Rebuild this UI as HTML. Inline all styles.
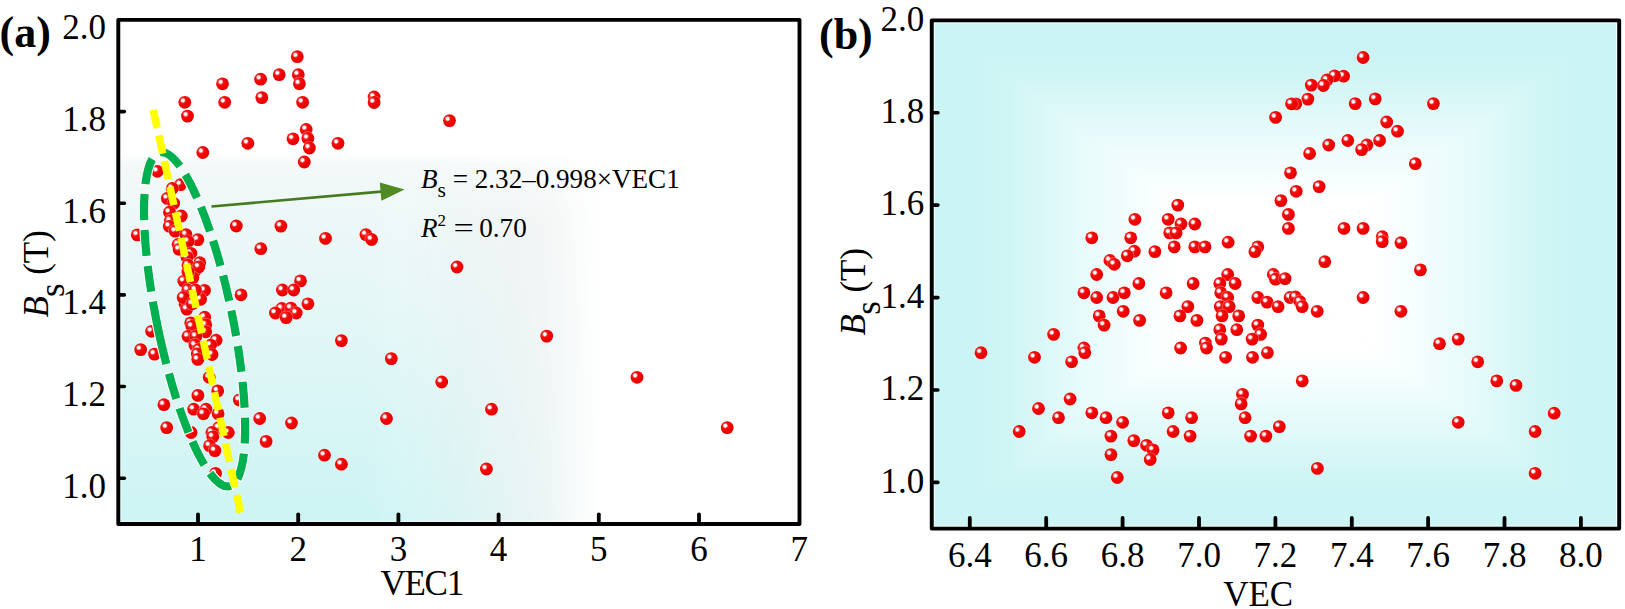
<!DOCTYPE html>
<html><head><meta charset="utf-8"><title>Bs vs VEC</title>
<style>
html,body{margin:0;padding:0;background:#fff}
body{width:1625px;height:609px;overflow:hidden}
svg{display:block}
text{font-family:"Liberation Serif","Times New Roman",serif;fill:#000}
.t{font-size:35px}
.b{font-weight:bold;font-size:44px}
.an{font-size:27.1px}
.i{font-style:italic}
</style></head><body>
<svg width="1625" height="609" viewBox="0 0 1625 609">
<defs>
<radialGradient id="sg" cx="0.35" cy="0.35" r="0.75" fx="0.35" fy="0.35">
<stop offset="0" stop-color="#fff"/><stop offset="0.13" stop-color="#fff"/><stop offset="0.30" stop-color="#f31212"/><stop offset="0.6" stop-color="#f00000"/><stop offset="1" stop-color="#e00000"/>
</radialGradient>
<g id="s"><circle r="7.1" fill="#fff" fill-opacity="0.4"/><circle r="6.4" fill="url(#sg)"/></g>
<linearGradient id="av" x1="0" y1="0" x2="0" y2="1">
<stop offset="0" stop-color="#fff"/><stop offset="0.265" stop-color="#fff"/><stop offset="0.285" stop-color="#f3f8f8"/><stop offset="1" stop-color="#cdf4f4"/>
</linearGradient>
<linearGradient id="ah" x1="0" y1="0" x2="1" y2="0">
<stop offset="0" stop-color="#fff"/><stop offset="0.36" stop-color="#fff"/><stop offset="0.50" stop-color="#bbb"/><stop offset="0.60" stop-color="#666"/><stop offset="0.67" stop-color="#1c1c1c"/><stop offset="0.71" stop-color="#000"/><stop offset="1" stop-color="#000"/>
</linearGradient>
<linearGradient id="agh" x1="0" y1="0" x2="1" y2="0">
<stop offset="0" stop-color="#000"/><stop offset="0.42" stop-color="#000"/><stop offset="0.57" stop-color="#fff"/><stop offset="0.63" stop-color="#fff"/><stop offset="0.71" stop-color="#000"/><stop offset="1" stop-color="#000"/>
</linearGradient>
<linearGradient id="agv" x1="0" y1="0" x2="0" y2="1">
<stop offset="0" stop-color="#ddd" stop-opacity="0"/><stop offset="0.27" stop-color="#ddd" stop-opacity="0"/><stop offset="0.40" stop-color="#ddd" stop-opacity="0.2"/><stop offset="1" stop-color="#ddd" stop-opacity="0.2"/>
</linearGradient>
<mask id="am" maskUnits="userSpaceOnUse" x="100" y="0" width="720" height="540"><rect x="118.3" y="19.9" width="681.2" height="504.1" fill="url(#ah)"/></mask>
<mask id="agm" maskUnits="userSpaceOnUse" x="100" y="0" width="720" height="540"><rect x="118.3" y="19.9" width="681.2" height="504.1" fill="url(#agh)"/></mask>
<linearGradient id="bT" gradientUnits="userSpaceOnUse" x1="0" y1="20.4" x2="0" y2="274.5"><stop offset="0" stop-color="#cbf4f4"/><stop offset="0.12" stop-color="#cbf4f4"/><stop offset="0.22" stop-color="#d0f5f5"/><stop offset="0.45" stop-color="#e8fbfb"/><stop offset="0.71" stop-color="#fff"/><stop offset="1" stop-color="#fff"/></linearGradient>
<linearGradient id="bB" gradientUnits="userSpaceOnUse" x1="0" y1="528.6" x2="0" y2="274.5"><stop offset="0" stop-color="#cbf4f4"/><stop offset="0.12" stop-color="#cbf4f4"/><stop offset="0.22" stop-color="#d0f5f5"/><stop offset="0.45" stop-color="#e8fbfb"/><stop offset="0.71" stop-color="#fff"/><stop offset="1" stop-color="#fff"/></linearGradient>
<linearGradient id="bL" gradientUnits="userSpaceOnUse" x1="931.75" y1="0" x2="1275.5" y2="0"><stop offset="0" stop-color="#cbf4f4"/><stop offset="0.12" stop-color="#cbf4f4"/><stop offset="0.22" stop-color="#d0f5f5"/><stop offset="0.45" stop-color="#e8fbfb"/><stop offset="0.71" stop-color="#fff"/><stop offset="1" stop-color="#fff"/></linearGradient>
<linearGradient id="bR" gradientUnits="userSpaceOnUse" x1="1619.2" y1="0" x2="1275.5" y2="0"><stop offset="0" stop-color="#cbf4f4"/><stop offset="0.12" stop-color="#cbf4f4"/><stop offset="0.22" stop-color="#d0f5f5"/><stop offset="0.45" stop-color="#e8fbfb"/><stop offset="0.71" stop-color="#fff"/><stop offset="1" stop-color="#fff"/></linearGradient>
</defs>

<rect x="118.3" y="19.9" width="681.20" height="504.10" fill="url(#av)" mask="url(#am)"/>
<rect x="118.3" y="19.9" width="681.20" height="504.10" fill="url(#agv)" mask="url(#agm)"/>
<g>
<use href="#s" x="297.3" y="56.7"/>
<use href="#s" x="298.3" y="74.7"/>
<use href="#s" x="279.2" y="74.7"/>
<use href="#s" x="260.6" y="79.2"/>
<use href="#s" x="299.4" y="83.8"/>
<use href="#s" x="222.5" y="83.8"/>
<use href="#s" x="261.8" y="97.6"/>
<use href="#s" x="302.6" y="102.3"/>
<use href="#s" x="224.7" y="102.3"/>
<use href="#s" x="184.8" y="102.3"/>
<use href="#s" x="187.5" y="116.1"/>
<use href="#s" x="374.1" y="97.0"/>
<use href="#s" x="374.1" y="102.5"/>
<use href="#s" x="449.5" y="120.6"/>
<use href="#s" x="306.2" y="129.5"/>
<use href="#s" x="307.9" y="138.4"/>
<use href="#s" x="293.0" y="138.8"/>
<use href="#s" x="309.4" y="148.0"/>
<use href="#s" x="338.0" y="143.3"/>
<use href="#s" x="247.8" y="143.3"/>
<use href="#s" x="202.8" y="152.5"/>
<use href="#s" x="304.3" y="162.0"/>
<use href="#s" x="236.3" y="226.0"/>
<use href="#s" x="280.9" y="226.1"/>
<use href="#s" x="325.5" y="238.4"/>
<use href="#s" x="365.9" y="234.6"/>
<use href="#s" x="371.6" y="239.5"/>
<use href="#s" x="260.8" y="248.7"/>
<use href="#s" x="137.3" y="234.9"/>
<use href="#s" x="457.0" y="267.0"/>
<use href="#s" x="241.0" y="294.8"/>
<use href="#s" x="300.5" y="280.9"/>
<use href="#s" x="282.4" y="290.0"/>
<use href="#s" x="293.7" y="290.0"/>
<use href="#s" x="307.9" y="303.8"/>
<use href="#s" x="281.8" y="308.5"/>
<use href="#s" x="290.9" y="308.1"/>
<use href="#s" x="275.4" y="313.0"/>
<use href="#s" x="296.2" y="313.0"/>
<use href="#s" x="286.2" y="317.6"/>
<use href="#s" x="341.4" y="340.6"/>
<use href="#s" x="391.3" y="358.6"/>
<use href="#s" x="151.6" y="331.3"/>
<use href="#s" x="140.7" y="349.6"/>
<use href="#s" x="154.5" y="354.1"/>
<use href="#s" x="546.7" y="336.1"/>
<use href="#s" x="441.7" y="382.0"/>
<use href="#s" x="386.5" y="418.5"/>
<use href="#s" x="291.5" y="423.0"/>
<use href="#s" x="259.7" y="418.5"/>
<use href="#s" x="266.1" y="441.4"/>
<use href="#s" x="324.5" y="455.2"/>
<use href="#s" x="341.4" y="464.2"/>
<use href="#s" x="163.9" y="404.7"/>
<use href="#s" x="166.7" y="427.6"/>
<use href="#s" x="191.1" y="432.5"/>
<use href="#s" x="197.9" y="395.4"/>
<use href="#s" x="209.2" y="377.3"/>
<use href="#s" x="217.7" y="390.9"/>
<use href="#s" x="239.3" y="400.0"/>
<use href="#s" x="193.7" y="409.2"/>
<use href="#s" x="206.0" y="409.2"/>
<use href="#s" x="203.4" y="413.8"/>
<use href="#s" x="218.1" y="413.8"/>
<use href="#s" x="218.7" y="427.6"/>
<use href="#s" x="228.3" y="432.5"/>
<use href="#s" x="211.9" y="432.5"/>
<use href="#s" x="212.8" y="436.8"/>
<use href="#s" x="209.6" y="445.7"/>
<use href="#s" x="214.9" y="450.6"/>
<use href="#s" x="215.5" y="473.3"/>
<use href="#s" x="637.0" y="377.3"/>
<use href="#s" x="491.5" y="409.2"/>
<use href="#s" x="727.2" y="427.6"/>
<use href="#s" x="486.4" y="469.0"/>
<use href="#s" x="157.4" y="171.3"/>
<use href="#s" x="180.6" y="184.6"/>
<use href="#s" x="172.2" y="188.5"/>
<use href="#s" x="167.3" y="198.4"/>
<use href="#s" x="173.7" y="203.3"/>
<use href="#s" x="169.5" y="212.2"/>
<use href="#s" x="181.3" y="216.0"/>
<use href="#s" x="170.2" y="220.8"/>
<use href="#s" x="169.3" y="226.3"/>
<use href="#s" x="175.2" y="231.2"/>
<use href="#s" x="186.0" y="234.6"/>
<use href="#s" x="197.8" y="239.6"/>
<use href="#s" x="188.0" y="241.5"/>
<use href="#s" x="178.1" y="244.5"/>
<use href="#s" x="179.1" y="249.4"/>
<use href="#s" x="190.9" y="253.3"/>
<use href="#s" x="187.0" y="257.3"/>
<use href="#s" x="199.8" y="262.7"/>
<use href="#s" x="188.0" y="265.2"/>
<use href="#s" x="194.7" y="271.2"/>
<use href="#s" x="183.8" y="281.1"/>
<use href="#s" x="187.8" y="289.9"/>
<use href="#s" x="204.5" y="290.4"/>
<use href="#s" x="200.6" y="299.3"/>
<use href="#s" x="185.0" y="303.9"/>
<use href="#s" x="186.8" y="309.1"/>
<use href="#s" x="190.7" y="322.9"/>
<use href="#s" x="198.8" y="267.0"/>
<use href="#s" x="204.7" y="317.2"/>
<use href="#s" x="183.1" y="297.5"/>
<use href="#s" x="192.9" y="277.8"/>
<use href="#s" x="187.9" y="272.0"/>
<use href="#s" x="195.4" y="290.0"/>
<use href="#s" x="192.2" y="303.8"/>
<use href="#s" x="191.9" y="326.4"/>
<use href="#s" x="205.7" y="324.9"/>
<use href="#s" x="205.7" y="331.8"/>
<use href="#s" x="188.0" y="336.3"/>
<use href="#s" x="195.9" y="336.3"/>
<use href="#s" x="216.1" y="340.2"/>
<use href="#s" x="194.9" y="345.1"/>
<use href="#s" x="210.6" y="345.1"/>
<use href="#s" x="198.8" y="349.6"/>
<use href="#s" x="212.1" y="354.5"/>
<use href="#s" x="197.3" y="354.0"/>
<use href="#s" x="197.8" y="359.4"/>
</g>
<g transform="rotate(-11.7 194.6 319.3)" fill="none">
<path d="M156.89999999999998,319.3 A37.7 170.4 0 0 0 194.6,489.70000000000005 A37.7 170.4 0 0 0 232.3,319.3 A37.7 170.4 0 0 0 194.6,148.9 A37.7 170.4 0 0 0 156.89999999999998,319.3" stroke="#fff" stroke-width="10.4" stroke-dasharray="28 8 28 8 28 8 28 8 28 8 28 8 28 8 28 8 28 8 28 8 28 8 28 8 28 8 28 8 28 8 28 8 28 8 28 8 28 8 38.12 0" stroke-dashoffset="-11"/>
<path d="M156.89999999999998,319.3 A37.7 170.4 0 0 0 194.6,489.70000000000005 A37.7 170.4 0 0 0 232.3,319.3 A37.7 170.4 0 0 0 194.6,148.9 A37.7 170.4 0 0 0 156.89999999999998,319.3" stroke="#00b050" stroke-width="8.2" stroke-dasharray="26 10 26 10 26 10 26 10 26 10 26 10 26 10 26 10 26 10 26 10 26 10 26 10 26 10 26 10 26 10 26 10 26 10 26 10 26 10 38.12 0" stroke-dashoffset="-12"/>
</g>
<line x1="153.2" y1="109.7" x2="240.5" y2="512.6" stroke="#ffff00" stroke-width="7.5" stroke-dasharray="18.7 7.57"/>
<line x1="211.5" y1="206.5" x2="384" y2="191.4" stroke="#467a1e" stroke-width="2.6"/>
<polygon points="404.5,189.6 381.4,200.8 379.8,182.6" fill="#4f8a24"/>
<text class="an" x="421" y="187.6"><tspan class="i">B</tspan><tspan font-size="21.5" dy="9.8">s</tspan><tspan dy="-9.8"> = 2.32–0.998×VEC1</tspan></text>
<text class="an" x="421" y="236.8"><tspan class="i">R</tspan><tspan font-size="17" dy="-11">2</tspan></text>
<text class="an" transform="translate(453.5 236.8) scale(1.33 1)">=</text>
<text class="an" x="479.3" y="236.8">0.70</text>
<rect x="120.89999999999999" y="22.5" width="676.00" height="498.90" fill="none" stroke="#fff" stroke-opacity="0.6" stroke-width="1.3"/>
<rect x="118.3" y="19.9" width="681.20" height="504.10" fill="none" stroke="#000" stroke-width="3.9" stroke-linejoin="round"/>
<line x1="120" y1="478.2" x2="124.3" y2="478.2" stroke="#000" stroke-width="3.6" stroke-linecap="round"/>
<text class="t" x="106" y="497.5" text-anchor="end">1.0</text>
<line x1="120" y1="386.5" x2="124.3" y2="386.5" stroke="#000" stroke-width="3.6" stroke-linecap="round"/>
<text class="t" x="106" y="405.8" text-anchor="end">1.2</text>
<line x1="120" y1="294.9" x2="124.3" y2="294.9" stroke="#000" stroke-width="3.6" stroke-linecap="round"/>
<text class="t" x="106" y="314.2" text-anchor="end">1.4</text>
<line x1="120" y1="203.2" x2="124.3" y2="203.2" stroke="#000" stroke-width="3.6" stroke-linecap="round"/>
<text class="t" x="106" y="222.5" text-anchor="end">1.6</text>
<line x1="120" y1="111.6" x2="124.3" y2="111.6" stroke="#000" stroke-width="3.6" stroke-linecap="round"/>
<text class="t" x="106" y="130.9" text-anchor="end">1.8</text>
<text class="t" x="106" y="39.2" text-anchor="end">2.0</text>
<line x1="198.0" y1="523" x2="198.0" y2="514.3" stroke="#000" stroke-width="3.8" stroke-linecap="round"/>
<text class="t" x="198.0" y="561" text-anchor="middle">1</text>
<line x1="298.2" y1="523" x2="298.2" y2="514.3" stroke="#000" stroke-width="3.8" stroke-linecap="round"/>
<text class="t" x="298.2" y="561" text-anchor="middle">2</text>
<line x1="398.4" y1="523" x2="398.4" y2="514.3" stroke="#000" stroke-width="3.8" stroke-linecap="round"/>
<text class="t" x="398.4" y="561" text-anchor="middle">3</text>
<line x1="498.6" y1="523" x2="498.6" y2="514.3" stroke="#000" stroke-width="3.8" stroke-linecap="round"/>
<text class="t" x="498.6" y="561" text-anchor="middle">4</text>
<line x1="598.8" y1="523" x2="598.8" y2="514.3" stroke="#000" stroke-width="3.8" stroke-linecap="round"/>
<text class="t" x="598.8" y="561" text-anchor="middle">5</text>
<line x1="699.0" y1="523" x2="699.0" y2="514.3" stroke="#000" stroke-width="3.8" stroke-linecap="round"/>
<text class="t" x="699.0" y="561" text-anchor="middle">6</text>
<text class="t" x="799.2" y="561" text-anchor="middle">7</text>
<text class="t" x="421.7" y="595.2" text-anchor="middle" letter-spacing="-1.3">VEC1</text>
<text class="b" x="-0.5" y="47">(a)</text>
<text class="t i" font-size="36" transform="translate(48.0 317.6) rotate(-90)">B</text>
<text class="t" font-size="36" transform="translate(63.8 297.0) rotate(-90)">s</text>
<text class="t" font-size="36" transform="translate(48.3 274.8) rotate(-90)">(T)</text>
<rect x="931.75" y="20.4" width="687.45" height="508.20" fill="#cbf4f4"/>
<polygon points="931.75,20.4 1619.2,20.4 1275.475,274.5" fill="url(#bT)" stroke="url(#bT)" stroke-width="0.6"/>
<polygon points="931.75,528.6 1619.2,528.6 1275.475,274.5" fill="url(#bB)" stroke="url(#bB)" stroke-width="0.6"/>
<polygon points="931.75,20.4 931.75,528.6 1275.475,274.5" fill="url(#bL)" stroke="url(#bL)" stroke-width="0.6"/>
<polygon points="1619.2,20.4 1619.2,528.6 1275.475,274.5" fill="url(#bR)" stroke="url(#bR)" stroke-width="0.6"/>
<g>
<use href="#s" x="1363.1" y="57.5"/>
<use href="#s" x="1343.6" y="76.2"/>
<use href="#s" x="1334.6" y="75.8"/>
<use href="#s" x="1327.0" y="80.0"/>
<use href="#s" x="1323.4" y="85.5"/>
<use href="#s" x="1311.3" y="85.1"/>
<use href="#s" x="1307.9" y="99.1"/>
<use href="#s" x="1295.8" y="103.8"/>
<use href="#s" x="1291.5" y="103.8"/>
<use href="#s" x="1275.6" y="117.4"/>
<use href="#s" x="1355.2" y="103.6"/>
<use href="#s" x="1375.2" y="98.9"/>
<use href="#s" x="1433.4" y="103.6"/>
<use href="#s" x="1386.7" y="122.0"/>
<use href="#s" x="1397.5" y="131.2"/>
<use href="#s" x="1379.6" y="140.5"/>
<use href="#s" x="1366.9" y="145.0"/>
<use href="#s" x="1361.6" y="149.6"/>
<use href="#s" x="1347.8" y="140.5"/>
<use href="#s" x="1328.7" y="145.0"/>
<use href="#s" x="1309.6" y="153.5"/>
<use href="#s" x="1415.3" y="163.7"/>
<use href="#s" x="1290.5" y="172.8"/>
<use href="#s" x="1319.1" y="186.6"/>
<use href="#s" x="1296.2" y="191.3"/>
<use href="#s" x="1280.9" y="200.6"/>
<use href="#s" x="1288.4" y="214.4"/>
<use href="#s" x="1288.4" y="228.4"/>
<use href="#s" x="1344.0" y="228.4"/>
<use href="#s" x="1363.1" y="228.4"/>
<use href="#s" x="1382.2" y="236.7"/>
<use href="#s" x="1382.2" y="241.6"/>
<use href="#s" x="1400.9" y="242.7"/>
<use href="#s" x="1324.8" y="261.7"/>
<use href="#s" x="1420.4" y="269.9"/>
<use href="#s" x="1177.8" y="205.1"/>
<use href="#s" x="1134.9" y="219.3"/>
<use href="#s" x="1168.2" y="219.3"/>
<use href="#s" x="1181.0" y="224.0"/>
<use href="#s" x="1194.8" y="224.0"/>
<use href="#s" x="1169.7" y="232.9"/>
<use href="#s" x="1176.1" y="232.9"/>
<use href="#s" x="1091.8" y="237.8"/>
<use href="#s" x="1130.7" y="237.8"/>
<use href="#s" x="1174.2" y="246.9"/>
<use href="#s" x="1194.8" y="246.9"/>
<use href="#s" x="1205.0" y="246.9"/>
<use href="#s" x="1228.1" y="242.2"/>
<use href="#s" x="1257.8" y="246.9"/>
<use href="#s" x="1254.9" y="251.6"/>
<use href="#s" x="1154.9" y="251.6"/>
<use href="#s" x="1134.3" y="251.2"/>
<use href="#s" x="1127.3" y="255.8"/>
<use href="#s" x="1109.9" y="260.5"/>
<use href="#s" x="1114.3" y="264.3"/>
<use href="#s" x="1096.7" y="274.5"/>
<use href="#s" x="1138.9" y="283.5"/>
<use href="#s" x="1193.1" y="283.5"/>
<use href="#s" x="1227.7" y="274.5"/>
<use href="#s" x="1219.8" y="283.5"/>
<use href="#s" x="1235.1" y="283.5"/>
<use href="#s" x="1273.3" y="274.5"/>
<use href="#s" x="1275.5" y="279.2"/>
<use href="#s" x="1285.1" y="278.6"/>
<use href="#s" x="1083.9" y="292.8"/>
<use href="#s" x="1096.7" y="297.5"/>
<use href="#s" x="1113.0" y="297.5"/>
<use href="#s" x="1124.3" y="292.8"/>
<use href="#s" x="1166.1" y="292.8"/>
<use href="#s" x="1220.7" y="292.8"/>
<use href="#s" x="1227.7" y="297.5"/>
<use href="#s" x="1257.8" y="297.5"/>
<use href="#s" x="1267.0" y="302.1"/>
<use href="#s" x="1278.1" y="306.7"/>
<use href="#s" x="1187.8" y="306.6"/>
<use href="#s" x="1220.3" y="306.6"/>
<use href="#s" x="1229.2" y="306.6"/>
<use href="#s" x="1123.2" y="311.3"/>
<use href="#s" x="1099.2" y="315.9"/>
<use href="#s" x="1179.9" y="315.9"/>
<use href="#s" x="1222.0" y="315.9"/>
<use href="#s" x="1238.7" y="315.9"/>
<use href="#s" x="1139.6" y="320.4"/>
<use href="#s" x="1196.9" y="320.4"/>
<use href="#s" x="1104.1" y="325.1"/>
<use href="#s" x="1257.8" y="325.1"/>
<use href="#s" x="1219.8" y="329.7"/>
<use href="#s" x="1236.8" y="329.7"/>
<use href="#s" x="1260.6" y="334.4"/>
<use href="#s" x="1053.6" y="334.4"/>
<use href="#s" x="1221.3" y="339.1"/>
<use href="#s" x="1252.1" y="339.1"/>
<use href="#s" x="1205.4" y="343.1"/>
<use href="#s" x="1206.5" y="348.0"/>
<use href="#s" x="1180.6" y="348.0"/>
<use href="#s" x="1083.9" y="348.0"/>
<use href="#s" x="1084.8" y="352.7"/>
<use href="#s" x="981.0" y="352.7"/>
<use href="#s" x="1034.5" y="357.3"/>
<use href="#s" x="1225.6" y="357.3"/>
<use href="#s" x="1252.5" y="357.3"/>
<use href="#s" x="1267.4" y="352.7"/>
<use href="#s" x="1071.6" y="361.8"/>
<use href="#s" x="1290.1" y="297.5"/>
<use href="#s" x="1295.4" y="297.0"/>
<use href="#s" x="1300.0" y="301.7"/>
<use href="#s" x="1302.2" y="306.6"/>
<use href="#s" x="1317.2" y="311.3"/>
<use href="#s" x="1363.1" y="297.5"/>
<use href="#s" x="1400.9" y="311.3"/>
<use href="#s" x="1439.5" y="343.7"/>
<use href="#s" x="1458.2" y="339.1"/>
<use href="#s" x="1477.7" y="361.8"/>
<use href="#s" x="1070.1" y="399.0"/>
<use href="#s" x="1038.5" y="408.5"/>
<use href="#s" x="1058.5" y="417.7"/>
<use href="#s" x="1019.2" y="431.5"/>
<use href="#s" x="1091.8" y="412.8"/>
<use href="#s" x="1106.0" y="417.7"/>
<use href="#s" x="1122.6" y="422.3"/>
<use href="#s" x="1110.9" y="436.1"/>
<use href="#s" x="1110.9" y="454.6"/>
<use href="#s" x="1117.3" y="477.5"/>
<use href="#s" x="1133.8" y="440.6"/>
<use href="#s" x="1146.6" y="445.3"/>
<use href="#s" x="1153.0" y="449.9"/>
<use href="#s" x="1150.2" y="459.5"/>
<use href="#s" x="1168.2" y="412.8"/>
<use href="#s" x="1191.6" y="417.7"/>
<use href="#s" x="1173.1" y="431.5"/>
<use href="#s" x="1190.1" y="436.1"/>
<use href="#s" x="1242.5" y="394.3"/>
<use href="#s" x="1241.1" y="403.9"/>
<use href="#s" x="1245.1" y="417.7"/>
<use href="#s" x="1250.6" y="436.1"/>
<use href="#s" x="1265.9" y="436.1"/>
<use href="#s" x="1279.3" y="426.6"/>
<use href="#s" x="1302.2" y="380.9"/>
<use href="#s" x="1496.8" y="380.9"/>
<use href="#s" x="1516.0" y="385.4"/>
<use href="#s" x="1554.2" y="413.2"/>
<use href="#s" x="1458.2" y="422.3"/>
<use href="#s" x="1535.1" y="431.5"/>
<use href="#s" x="1535.1" y="473.3"/>
<use href="#s" x="1317.4" y="468.4"/>
</g>
<rect x="934.35" y="23.0" width="682.25" height="503.00" fill="none" stroke="#fff" stroke-opacity="0.6" stroke-width="1.3"/>
<rect x="931.75" y="20.4" width="687.45" height="508.20" fill="none" stroke="#000" stroke-width="3.9" stroke-linejoin="round"/>
<line x1="933" y1="482.4" x2="937.9" y2="482.4" stroke="#000" stroke-width="3.6" stroke-linecap="round"/>
<text class="t" x="924.3" y="492.7" text-anchor="end">1.0</text>
<line x1="933" y1="390.0" x2="937.9" y2="390.0" stroke="#000" stroke-width="3.6" stroke-linecap="round"/>
<text class="t" x="924.3" y="400.3" text-anchor="end">1.2</text>
<line x1="933" y1="297.6" x2="937.9" y2="297.6" stroke="#000" stroke-width="3.6" stroke-linecap="round"/>
<text class="t" x="924.3" y="307.9" text-anchor="end">1.4</text>
<line x1="933" y1="205.1" x2="937.9" y2="205.1" stroke="#000" stroke-width="3.6" stroke-linecap="round"/>
<text class="t" x="924.3" y="215.4" text-anchor="end">1.6</text>
<line x1="933" y1="112.7" x2="937.9" y2="112.7" stroke="#000" stroke-width="3.6" stroke-linecap="round"/>
<text class="t" x="924.3" y="123.0" text-anchor="end">1.8</text>
<text class="t" x="924.3" y="30.6" text-anchor="end">2.0</text>
<line x1="969.8" y1="527.6" x2="969.8" y2="518" stroke="#000" stroke-width="3.8" stroke-linecap="round"/>
<text class="t" x="969.8" y="566.7" text-anchor="middle">6.4</text>
<line x1="1046.2" y1="527.6" x2="1046.2" y2="518" stroke="#000" stroke-width="3.8" stroke-linecap="round"/>
<text class="t" x="1046.2" y="566.7" text-anchor="middle">6.6</text>
<line x1="1122.6" y1="527.6" x2="1122.6" y2="518" stroke="#000" stroke-width="3.8" stroke-linecap="round"/>
<text class="t" x="1122.6" y="566.7" text-anchor="middle">6.8</text>
<line x1="1199.0" y1="527.6" x2="1199.0" y2="518" stroke="#000" stroke-width="3.8" stroke-linecap="round"/>
<text class="t" x="1199.0" y="566.7" text-anchor="middle">7.0</text>
<line x1="1275.4" y1="527.6" x2="1275.4" y2="518" stroke="#000" stroke-width="3.8" stroke-linecap="round"/>
<text class="t" x="1275.4" y="566.7" text-anchor="middle">7.2</text>
<line x1="1351.8" y1="527.6" x2="1351.8" y2="518" stroke="#000" stroke-width="3.8" stroke-linecap="round"/>
<text class="t" x="1351.8" y="566.7" text-anchor="middle">7.4</text>
<line x1="1428.1" y1="527.6" x2="1428.1" y2="518" stroke="#000" stroke-width="3.8" stroke-linecap="round"/>
<text class="t" x="1428.1" y="566.7" text-anchor="middle">7.6</text>
<line x1="1504.5" y1="527.6" x2="1504.5" y2="518" stroke="#000" stroke-width="3.8" stroke-linecap="round"/>
<text class="t" x="1504.5" y="566.7" text-anchor="middle">7.8</text>
<line x1="1580.9" y1="527.6" x2="1580.9" y2="518" stroke="#000" stroke-width="3.8" stroke-linecap="round"/>
<text class="t" x="1580.9" y="566.7" text-anchor="middle">8.0</text>
<text class="t" x="1258.2" y="605.5" text-anchor="middle">VEC</text>
<text class="b" x="819" y="48.8">(b)</text>
<text class="t i" font-size="36" transform="translate(864.5 335.4) rotate(-90)">B</text>
<text class="t" font-size="36" transform="translate(880.3 314.8) rotate(-90)">s</text>
<text class="t" font-size="36" transform="translate(864.8 292.6) rotate(-90)">(T)</text>
</svg></body></html>
